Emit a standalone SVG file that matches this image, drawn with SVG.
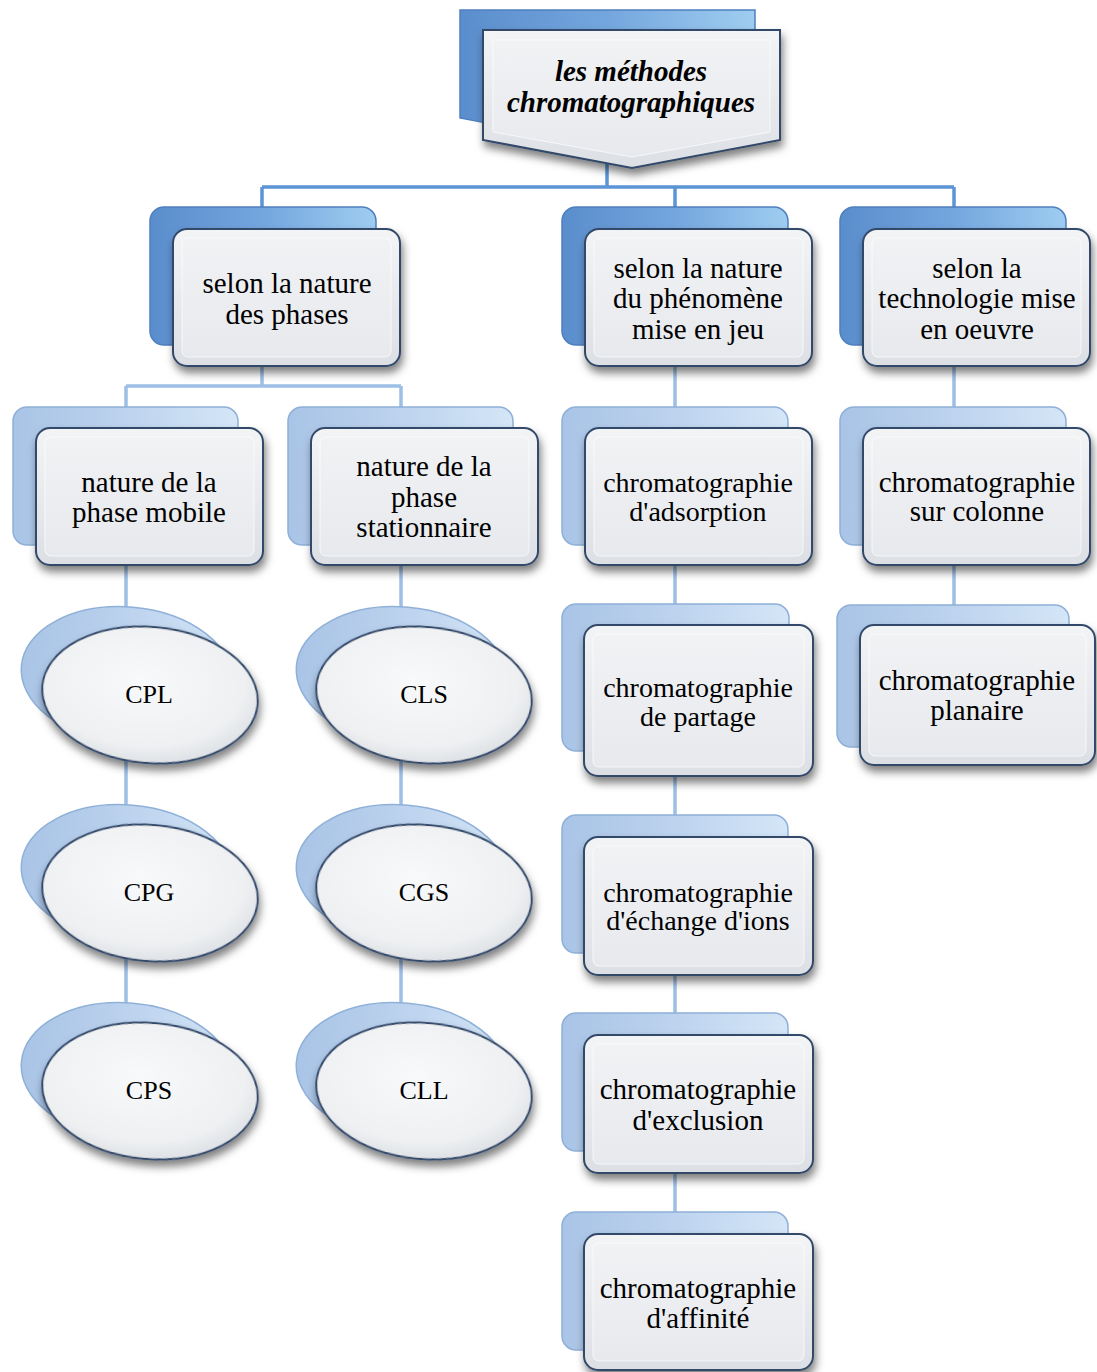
<svg xmlns="http://www.w3.org/2000/svg" width="1097" height="1372" viewBox="0 0 1097 1372">
  <defs>
    <linearGradient id="gBlue" x1="0" y1="0" x2="1" y2="0">
      <stop offset="0" stop-color="#5a8dcc"/>
      <stop offset="0.5" stop-color="#74a6de"/>
      <stop offset="1" stop-color="#9fcdf0"/>
    </linearGradient>
    <linearGradient id="gPale" x1="0" y1="0" x2="1" y2="0">
      <stop offset="0" stop-color="#a9c4e6"/>
      <stop offset="0.5" stop-color="#bdd3ee"/>
      <stop offset="1" stop-color="#d4e6f7"/>
    </linearGradient>
    <linearGradient id="gFace" x1="0" y1="0" x2="0" y2="1">
      <stop offset="0" stop-color="#f3f4f6"/>
      <stop offset="1" stop-color="#dcdfe4"/>
    </linearGradient>
    <linearGradient id="gBevel" x1="0" y1="0" x2="0" y2="1">
      <stop offset="0" stop-color="#f1f2f4"/>
      <stop offset="1" stop-color="#e7e9ed"/>
    </linearGradient>
    <radialGradient id="gOval" cx="0.45" cy="0.4" r="0.6">
      <stop offset="0" stop-color="#f8f9fa"/>
      <stop offset="0.8" stop-color="#eef0f2"/>
      <stop offset="1" stop-color="#dfe2e6"/>
    </radialGradient>
    <filter id="shadow" x="-20%" y="-20%" width="140%" height="150%">
      <feDropShadow dx="2" dy="6" stdDeviation="4" flood-color="#000" flood-opacity="0.5"/>
    </filter>
  </defs>
  <style>
    .back1 { fill: url(#gBlue); stroke: #4f7fbf; stroke-width: 1.5; }
    .back2 { fill: url(#gPale); stroke: #8fb0d8; stroke-width: 1.5; }
    .face { fill: url(#gFace); stroke: #33496a; stroke-width: 2; filter: url(#shadow); }
    .bevel { fill: url(#gBevel); stroke: #ffffff; stroke-opacity: 0.7; stroke-width: 1; }
    .oval { fill: url(#gOval); stroke: #33496a; stroke-width: 2; filter: url(#shadow); }
    text { font-family: "Liberation Serif", serif; font-size: 29px; fill: #000; text-anchor: middle; }
    .t28 { font-size: 28px; }
    .t26 { font-size: 26px; }
    .title { font-weight: bold; font-style: italic; }
    .c1 { stroke: #5b95d6; stroke-width: 3.5; fill: none; }
    .c2 { stroke: #9dbfe6; stroke-width: 3.5; fill: none; }
  </style>
  <rect width="1097" height="1372" fill="#ffffff"/>

  <!-- connectors -->
  <g id="connectors">
    <path class="c1" d="M607,150 V187 M262,187 H954 M262,187 V212 M675,187 V212 M954,187 V212"/>
    <path class="c2" d="M262,360 V386 M126,386 H401 M126,386 V412 M401,386 V412"/>
    <path class="c2" d="M126,540 V1010 M401,540 V1010 M675,360 V1220 M954,360 V612"/>
  </g>

  <!-- root -->
  <g id="root">
    <polygon class="back1" points="460,10 755,10 755,118 607,146 460,118"/>
    <polygon class="face" points="483,30 780,30 780,140 632,168 483,140"/>
    <polygon class="bevel" points="493,40 770,40 770,132 632,157 493,132"/>
    <text class="title" x="631" y="81">les méthodes</text>
    <text class="title" x="631" y="112">chromatographiques</text>
  </g>

  <!-- level 1 -->
  <g id="n-phases">
    <rect class="back1" x="150" y="207" width="226" height="138" rx="14"/>
    <rect class="face" x="173" y="229" width="227" height="137" rx="14"/>
    <rect class="bevel" x="182" y="238" width="209" height="119" rx="6"/>
    <text x="287" y="293">selon la nature</text>
    <text x="287" y="324">des phases</text>
  </g>
  <g id="n-phenomene">
    <rect class="back1" x="562" y="207" width="226" height="138" rx="14"/>
    <rect class="face" x="585" y="229" width="227" height="137" rx="14"/>
    <rect class="bevel" x="594" y="238" width="209" height="119" rx="6"/>
    <text x="698" y="278">selon la nature</text>
    <text x="698" y="308">du phénomène</text>
    <text x="698" y="339">mise en jeu</text>
  </g>
  <g id="n-technologie">
    <rect class="back1" x="840" y="207" width="226" height="138" rx="14"/>
    <rect class="face" x="863" y="229" width="227" height="137" rx="14"/>
    <rect class="bevel" x="872" y="238" width="209" height="119" rx="6"/>
    <text x="977" y="278">selon la</text>
    <text x="977" y="308">technologie mise</text>
    <text x="977" y="339">en oeuvre</text>
  </g>

  <!-- level 2 -->
  <g id="n-mobile">
    <rect class="back2" x="13" y="407" width="225" height="138" rx="14"/>
    <rect class="face" x="36" y="428" width="227" height="137" rx="14"/>
    <rect class="bevel" x="45" y="437" width="209" height="119" rx="6"/>
    <text x="149" y="492">nature de la</text>
    <text x="149" y="522">phase mobile</text>
  </g>
  <g id="n-stationnaire">
    <rect class="back2" x="288" y="407" width="225" height="138" rx="14"/>
    <rect class="face" x="311" y="428" width="227" height="137" rx="14"/>
    <rect class="bevel" x="320" y="437" width="209" height="119" rx="6"/>
    <text x="424" y="476">nature de la</text>
    <text x="424" y="507">phase</text>
    <text x="424" y="537">stationnaire</text>
  </g>
  <g id="n-adsorption">
    <rect class="back2" x="562" y="407" width="226" height="138" rx="14"/>
    <rect class="face" x="585" y="428" width="227" height="137" rx="14"/>
    <rect class="bevel" x="594" y="437" width="209" height="119" rx="6"/>
    <text class="t28" x="698" y="492">chromatographie</text>
    <text class="t28" x="698" y="521">d'adsorption</text>
  </g>
  <g id="n-colonne">
    <rect class="back2" x="840" y="407" width="226" height="138" rx="14"/>
    <rect class="face" x="863" y="428" width="227" height="137" rx="14"/>
    <rect class="bevel" x="872" y="437" width="209" height="119" rx="6"/>
    <text x="977" y="492">chromatographie</text>
    <text x="977" y="521">sur colonne</text>
  </g>

  <!-- level 3: ovals -->
  <g id="n-cpl">
    <ellipse class="back2" cx="127" cy="675" rx="106" ry="68" transform="rotate(5 127 675)"/>
    <ellipse class="oval" cx="150" cy="695" rx="108" ry="68" transform="rotate(5 150 695)"/>
    <text class="t26" x="149" y="703">CPL</text>
  </g>
  <g id="n-cpg">
    <ellipse class="back2" cx="127" cy="873" rx="106" ry="68" transform="rotate(5 127 873)"/>
    <ellipse class="oval" cx="150" cy="893" rx="108" ry="68" transform="rotate(5 150 893)"/>
    <text class="t26" x="149" y="901">CPG</text>
  </g>
  <g id="n-cps">
    <ellipse class="back2" cx="127" cy="1071" rx="106" ry="68" transform="rotate(5 127 1071)"/>
    <ellipse class="oval" cx="150" cy="1091" rx="108" ry="68" transform="rotate(5 150 1091)"/>
    <text class="t26" x="149" y="1099">CPS</text>
  </g>
  <g id="n-cls">
    <ellipse class="back2" cx="402" cy="675" rx="106" ry="68" transform="rotate(5 402 675)"/>
    <ellipse class="oval" cx="424" cy="695" rx="108" ry="68" transform="rotate(5 424 695)"/>
    <text class="t26" x="424" y="703">CLS</text>
  </g>
  <g id="n-cgs">
    <ellipse class="back2" cx="402" cy="873" rx="106" ry="68" transform="rotate(5 402 873)"/>
    <ellipse class="oval" cx="424" cy="893" rx="108" ry="68" transform="rotate(5 424 893)"/>
    <text class="t26" x="424" y="901">CGS</text>
  </g>
  <g id="n-cll">
    <ellipse class="back2" cx="402" cy="1071" rx="106" ry="68" transform="rotate(5 402 1071)"/>
    <ellipse class="oval" cx="424" cy="1091" rx="108" ry="68" transform="rotate(5 424 1091)"/>
    <text class="t26" x="424" y="1099">CLL</text>
  </g>

  <!-- level 3: boxes -->
  <g id="n-partage">
    <rect class="back2" x="562" y="604" width="227" height="147" rx="14"/>
    <rect class="face" x="584" y="625" width="229" height="151" rx="14"/>
    <rect class="bevel" x="593" y="634" width="211" height="133" rx="6"/>
    <text class="t28" x="698" y="697">chromatographie</text>
    <text class="t28" x="698" y="726">de partage</text>
  </g>
  <g id="n-planaire">
    <rect class="back2" x="837" y="605" width="232" height="142" rx="14"/>
    <rect class="face" x="860" y="625" width="235" height="140" rx="14"/>
    <rect class="bevel" x="869" y="634" width="217" height="122" rx="6"/>
    <text x="977" y="690">chromatographie</text>
    <text x="977" y="720">planaire</text>
  </g>
  <g id="n-echange">
    <rect class="back2" x="562" y="815" width="226" height="138" rx="14"/>
    <rect class="face" x="584" y="837" width="229" height="138" rx="14"/>
    <rect class="bevel" x="593" y="846" width="211" height="120" rx="6"/>
    <text class="t28" x="698" y="902">chromatographie</text>
    <text class="t28" x="698" y="930">d'échange d'ions</text>
  </g>
  <g id="n-exclusion">
    <rect class="back2" x="562" y="1013" width="226" height="138" rx="14"/>
    <rect class="face" x="584" y="1035" width="229" height="138" rx="14"/>
    <rect class="bevel" x="593" y="1044" width="211" height="120" rx="6"/>
    <text x="698" y="1099">chromatographie</text>
    <text x="698" y="1130">d'exclusion</text>
  </g>
  <g id="n-affinite">
    <rect class="back2" x="562" y="1212" width="226" height="138" rx="14"/>
    <rect class="face" x="584" y="1234" width="229" height="136" rx="14"/>
    <rect class="bevel" x="593" y="1243" width="211" height="118" rx="6"/>
    <text x="698" y="1298">chromatographie</text>
    <text x="698" y="1328">d'affinité</text>
  </g>
</svg>
